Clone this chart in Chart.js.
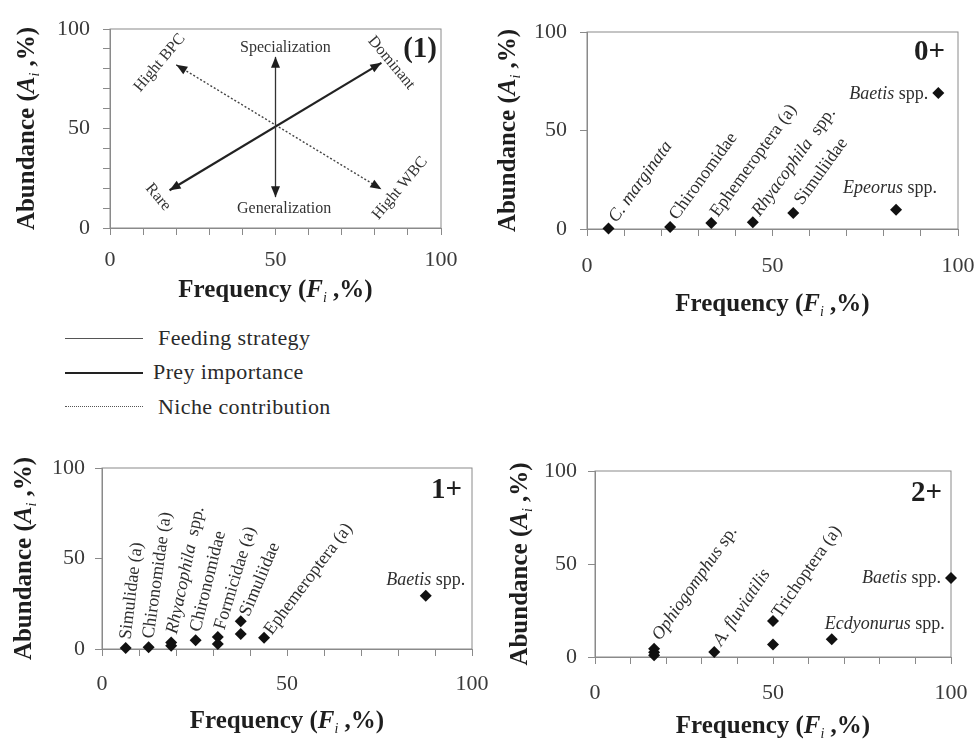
<!DOCTYPE html>
<html>
<head>
<meta charset="utf-8">
<script src="https://cdn.jsdelivr.net/npm/chart.js@4.4.1/dist/chart.umd.min.js"></script>
<style>
  body { margin: 0; background: #fff; width: 978px; height: 740px; position: relative; overflow: hidden;
         font-family: "Liberation Serif", "Times New Roman", serif; }
  canvas { position: absolute; }
  .key-line { position: absolute; left: 65px; width: 78px; height: 0; }
  .key-text { position: absolute; font-size: 22px; line-height: 26px; color: #2a2a2a; letter-spacing: 0.4px; white-space: nowrap; }
</style>
</head>
<body>
<canvas id="modelChart" width="470" height="320" style="left:0;top:0"></canvas>
<canvas id="age0Chart" width="498" height="330" style="left:480px;top:0"></canvas>
<canvas id="age1Chart" width="490" height="320" style="left:0;top:420px"></canvas>
<canvas id="age2Chart" width="488" height="320" style="left:490px;top:420px"></canvas>

<div class="key-line" style="top:338px;border-top:1.5px solid #555"></div>
<div class="key-text" style="left:158px;top:325px">Feeding strategy</div>
<div class="key-line" style="top:372px;border-top:2.5px solid #222"></div>
<div class="key-text" style="left:153px;top:359px">Prey importance</div>
<div class="key-line" style="top:406px;border-top:1.5px dotted #555"></div>
<div class="key-text" style="left:158px;top:394px">Niche contribution</div>

<script>
'use strict';

// ---- panel (1): conceptual arrows ----
var feedingX = [50, 50];
var feedingY = [15.5, 86];
var preyX = [18, 82];
var preyY = [19, 83];
var nicheX = [20, 82];
var nicheY = [82, 19.5];

// ---- 0+ ----
var age0Freq = [5.8, 22.4, 33.5, 44.7, 55.6, 83.3, 94.7];
var age0Abund = [0.3, 1, 3, 3.4, 8.1, 9.8, 69];
var age0Taxa = ['*C. marginata*', 'Chironomidae', 'Ephemeroptera (a)', '*Rhyacophila*  spp.', 'Simuliidae', '*Epeorus* spp.', '*Baetis* spp.'];

// ---- 1+ ----
var age1Freq = [6.4, 12.6, 18.7, 18.7, 25.3, 31.3, 31.3, 37.5, 37.5, 43.8, 87.5];
var age1Abund = [0.5, 0.9, 3.6, 1.8, 4.8, 6.6, 2.8, 15.3, 8.3, 6.2, 29.4];
var age1Taxa = ['Simulidae (a)', 'Chironomidae (a)', '*Rhyacophila*  spp.', '', 'Chironomidae', 'Formicidae (a)', '', 'Simuliidae', '', 'Ephemeroptera (a)', '*Baetis* spp.'];

// ---- 2+ ----
var age2Freq = [16.6, 16.6, 16.6, 33.5, 50, 50, 66.5, 100];
var age2Abund = [4.5, 2.5, 1, 2.7, 19.4, 6.7, 9.5, 42.5];
var age2Taxa = ['*Ophiogomphus* sp.', '', '', '*A. fluviatilis*', 'Trichoptera (a)', '', '*Ecdyonurus* spp.', '*Baetis* spp.'];

// label placement (angle in degrees, pixel offset from the point, alignment)
var age0LabelPos = [
    { a: -54, dx: 4, dy: -8 }, { a: -54, dx: 3, dy: -9 }, { a: -54, dx: 3, dy: -8 },
    { a: -54, dx: 3, dy: -8 }, { a: -54, dx: 5, dy: -10 },
    { a: 0, dx: -6, dy: -21, align: 'center' }, { a: 0, dx: -10, dy: 1, align: 'right' }
];
var age1LabelPos = [
    { a: -83, dx: 0, dy: -9 }, { a: -82, dx: 0, dy: -9 }, { a: -78, dx: 1, dy: -9 }, null,
    { a: -76, dx: 0, dy: -9 }, { a: -73, dx: 2, dy: -8 }, null, { a: -67, dx: 4, dy: -6 }, null,
    { a: -53, dx: 4, dy: -5 }, { a: 0, dx: 0, dy: -16, align: 'center' }
];
var age2LabelPos = [
    { a: -55, dx: 2, dy: -10 }, null, null, { a: -56, dx: 3, dy: -8 }, { a: -55, dx: 3, dy: -5 }, null,
    { a: 0, dx: -7, dy: -15 }, { a: 0, dx: -10, dy: 0, align: 'right' }
];

var modelNotes = [
    { text: 'Specialization', x: 53, y: 90.5, a: 0 },
    { text: 'Generalization', x: 52.6, y: 9.5, a: 0 },
    { text: 'Hight BPC', x: 15, y: 83, a: -50 },
    { text: 'Dominant', x: 85, y: 83, a: 50 },
    { text: 'Rare', x: 14.5, y: 15.5, a: 50 },
    { text: 'Hight WBC', x: 87.6, y: 20, a: -50 }
];

var serif = '"Liberation Serif", "Times New Roman", serif';
var axisGray = '#8a8a8a';
var tickColor = '#3a3a3a';

function toPoints(xs, ys) {
    return xs.map(function (x, i) { return { x: x, y: ys[i] }; });
}

function tickLabel(v) {
    return v % 50 === 0 ? v : '';
}

function buildAxes(p) {
    return {
        x: {
            type: 'linear', min: 0, max: 100,
            ticks: { stepSize: 10, autoSkip: false, maxRotation: 0, padding: p.xPad, color: tickColor,
                     font: { family: serif, size: 22 }, callback: tickLabel },
            grid: { drawOnChartArea: false, drawTicks: true, tickLength: 7, color: axisGray },
            border: { color: axisGray },
            afterFit: function (s) { s.height = p.xH; s.paddingLeft = 0; s.paddingRight = 0; }
        },
        y: {
            type: 'linear', min: 0, max: 100,
            ticks: { stepSize: p.yStep, autoSkip: false, padding: p.yPad, color: tickColor,
                     font: { family: serif, size: 22 }, callback: tickLabel },
            grid: { drawOnChartArea: false, drawTicks: true, tickLength: 7, color: axisGray },
            border: { color: axisGray },
            afterFit: function (s) { s.width = p.yW; s.paddingTop = 0; s.paddingBottom = 0; }
        }
    };
}

// draws a run of text where *...* parts are italic
function drawMixed(ctx, text, size, align) {
    var parts = text.split('*');
    var widths = [];
    var total = 0;
    parts.forEach(function (part, i) {
        ctx.font = (i % 2 ? 'italic ' : '') + size + 'px ' + serif;
        var w = ctx.measureText(part).width;
        widths.push(w);
        total += w;
    });
    var x = align === 'right' ? -total : (align === 'center' ? -total / 2 : 0);
    ctx.textAlign = 'left';
    parts.forEach(function (part, i) {
        ctx.font = (i % 2 ? 'italic ' : '') + size + 'px ' + serif;
        ctx.fillText(part, x, 0);
        x += widths[i];
    });
}

// axis title with bold text, bold-italic variable and subscript i
function drawAxisTitle(ctx, pre, letter, x, y, rotate) {
    var size = 25;
    var parts = [
        { t: pre + ' (', f: 'bold ' + size + 'px ' + serif, dy: 0 },
        { t: letter, f: 'italic bold ' + size + 'px ' + serif, dy: 0 },
        { t: 'i', f: 'italic 14px ' + serif, dy: 7 },
        { t: ' ,%)', f: 'bold ' + size + 'px ' + serif, dy: 0 }
    ];
    var total = 0;
    parts.forEach(function (p) { ctx.font = p.f; p.w = ctx.measureText(p.t).width; total += p.w; });
    ctx.save();
    ctx.translate(x, y);
    if (rotate) ctx.rotate(-Math.PI / 2);
    ctx.fillStyle = '#1e1e1e';
    ctx.textBaseline = 'middle';
    ctx.textAlign = 'left';
    var cx = -total / 2;
    parts.forEach(function (p) { ctx.font = p.f; ctx.fillText(p.t, cx, p.dy); cx += p.w; });
    ctx.restore();
}

var panelDecor = {
    id: 'panelDecor',
    beforeDatasetsDraw: function (chart) {
        var a = chart.chartArea;
        var ctx = chart.ctx;
        ctx.save();
        ctx.strokeStyle = axisGray;
        ctx.lineWidth = 1;
        ctx.strokeRect(a.left, a.top, a.right - a.left, a.bottom - a.top);
        ctx.restore();
    },
    afterDraw: function (chart, args, opts) {
        var a = chart.chartArea;
        var ctx = chart.ctx;
        drawAxisTitle(ctx, 'Frequency', 'F', (a.left + a.right) / 2, a.bottom + opts.xTitleGap, false);
        drawAxisTitle(ctx, 'Abundance', 'A', opts.yTitleX, (a.top + a.bottom) / 2, true);
        ctx.save();
        ctx.font = 'bold 29px ' + serif;
        ctx.fillStyle = '#1e1e1e';
        ctx.textAlign = 'right';
        ctx.textBaseline = 'middle';
        ctx.fillText(opts.tag, a.right - opts.tagInset, a.top + opts.tagDrop);
        ctx.restore();
    }
};

var taxonLabels = {
    id: 'taxonLabels',
    afterDatasetsDraw: function (chart, args, opts) {
        if (!opts.names) return;
        var meta = chart.getDatasetMeta(0);
        var ctx = chart.ctx;
        ctx.save();
        ctx.fillStyle = '#2e2e2e';
        ctx.textBaseline = 'middle';
        opts.names.forEach(function (name, i) {
            var pos = opts.pos[i];
            if (!name || !pos) return;
            var pt = meta.data[i];
            ctx.save();
            ctx.translate(pt.x + pos.dx, pt.y + pos.dy);
            ctx.rotate(pos.a * Math.PI / 180);
            drawMixed(ctx, name, 18, pos.align || 'left');
            ctx.restore();
        });
        ctx.restore();
    }
};

var arrowsAndNotes = {
    id: 'arrowsAndNotes',
    afterDatasetsDraw: function (chart, args, opts) {
        if (!opts.notes) return;
        var ctx = chart.ctx;
        chart.data.datasets.forEach(function (ds, di) {
            var pts = chart.getDatasetMeta(di).data;
            var ends = [[pts[0], pts[1]], [pts[1], pts[0]]];
            ends.forEach(function (e) {
                var tip = e[0], from = e[1];
                var ang = Math.atan2(tip.y - from.y, tip.x - from.x);
                var len = 11, half = 4.5;
                ctx.save();
                ctx.translate(tip.x, tip.y);
                ctx.rotate(ang);
                ctx.fillStyle = '#1e1e1e';
                ctx.beginPath();
                ctx.moveTo(0, 0);
                ctx.lineTo(-len, -half);
                ctx.lineTo(-len, half);
                ctx.closePath();
                ctx.fill();
                ctx.restore();
            });
        });
        var xs = chart.scales.x, ys = chart.scales.y;
        ctx.save();
        ctx.fillStyle = '#333';
        ctx.textAlign = 'center';
        ctx.textBaseline = 'middle';
        ctx.font = '16px ' + serif;
        opts.notes.forEach(function (n) {
            ctx.save();
            ctx.translate(xs.getPixelForValue(n.x), ys.getPixelForValue(n.y));
            ctx.rotate(n.a * Math.PI / 180);
            ctx.fillText(n.text, 0, 0);
            ctx.restore();
        });
        ctx.restore();
    }
};

function scatterPanel(id, xs, ys, names, pos, p) {
    return new Chart(document.getElementById(id), {
        type: 'scatter',
        data: {
            datasets: [{
                data: toPoints(xs, ys),
                pointStyle: 'rectRot',
                pointRadius: 6,
                backgroundColor: '#111',
                borderColor: '#111',
                borderWidth: 0,
                clip: false
            }]
        },
        options: {
            responsive: false,
            animation: false,
            layout: { padding: { top: p.top, right: p.right, left: 0, bottom: 0 } },
            scales: buildAxes(p),
            plugins: {
                legend: { display: false },
                tooltip: { enabled: false },
                panelDecor: p.decor,
                taxonLabels: { names: names, pos: pos }
            }
        },
        plugins: [panelDecor, taxonLabels]
    });
}

// panel (1)
new Chart(document.getElementById('modelChart'), {
    type: 'scatter',
    data: {
        datasets: [
            { label: 'Feeding strategy', data: toPoints(feedingX, feedingY), showLine: true, pointRadius: 0,
              borderColor: '#333', borderWidth: 1.3 },
            { label: 'Prey importance', data: toPoints(preyX, preyY), showLine: true, pointRadius: 0,
              borderColor: '#222', borderWidth: 2.2 },
            { label: 'Niche contribution', data: toPoints(nicheX, nicheY), showLine: true, pointRadius: 0,
              borderColor: '#444', borderWidth: 1.4, borderDash: [2, 2] }
        ]
    },
    options: {
        responsive: false,
        animation: false,
        layout: { padding: { top: 29, right: 29, left: 0, bottom: 0 } },
        scales: buildAxes({ xPad: 12, yPad: 13, xH: 92, yW: 110, yStep: 10 }),
        plugins: {
            legend: { display: false },
            tooltip: { enabled: false },
            panelDecor: { xTitleGap: 63, yTitleX: 28, tag: '(1)', tagInset: 4, tagDrop: 21 },
            arrowsAndNotes: { notes: modelNotes }
        }
    },
    plugins: [panelDecor, arrowsAndNotes]
});

scatterPanel('age0Chart', age0Freq, age0Abund, age0Taxa, age0LabelPos,
    { top: 32, right: 20, xPad: 17, yPad: 13, xH: 101, yW: 107, yStep: 50,
      decor: { xTitleGap: 76, yTitleX: 29, tag: '0+', tagInset: 13, tagDrop: 21 } });

scatterPanel('age1Chart', age1Freq, age1Abund, age1Taxa, age1LabelPos,
    { top: 48, right: 18, xPad: 15, yPad: 10, xH: 91, yW: 102, yStep: 50,
      decor: { xTitleGap: 73, yTitleX: 25, tag: '1+', tagInset: 10, tagDrop: 23 } });

scatterPanel('age2Chart', age2Freq, age2Abund, age2Taxa, age2LabelPos,
    { top: 51, right: 27, xPad: 16, yPad: 11, xH: 83, yW: 105, yStep: 50,
      decor: { xTitleGap: 70, yTitleX: 31, tag: '2+', tagInset: 9, tagDrop: 23 } });
</script>
</body>
</html>
